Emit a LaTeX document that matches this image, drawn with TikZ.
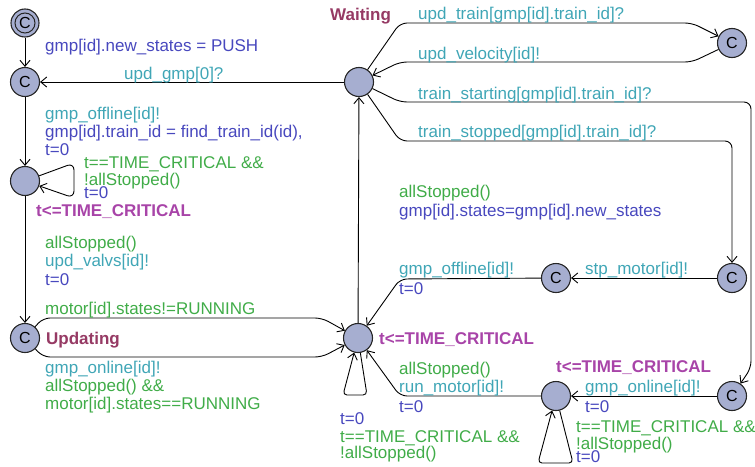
\documentclass[tikz,border=0pt]{standalone}
\usepackage{fontspec}
\setmainfont{Liberation Sans}
\usetikzlibrary{arrows.meta}
\definecolor{cblue}{RGB}{72,72,190}
\definecolor{cteal}{RGB}{64,166,182}
\definecolor{cgreen}{RGB}{64,172,72}
\definecolor{cinv}{RGB}{168,68,168}
\definecolor{cname}{RGB}{150,58,100}
\definecolor{locfill}{RGB}{166,174,208}
\begin{document}
\begin{tikzpicture}[x=1pt,y=-1pt,
  loc/.style={circle,draw=black!85,line width=1.1pt,fill=locfill,minimum size=29pt,inner sep=0pt,font=\fontsize{16}{16}\selectfont},
  lbl/.style={anchor=base west,inner sep=0pt,font=\fontsize{17}{17}\selectfont},
  bl/.style={lbl,text=cblue},
  te/.style={lbl,text=cteal},
  gr/.style={lbl,text=cgreen},
  inv/.style={lbl,text=cinv,font=\fontsize{17}{17}\selectfont\bfseries},
  nm/.style={lbl,text=cname,font=\fontsize{17}{17}\selectfont\bfseries},
  edge/.style={draw=black,line width=0.9pt,rounded corners=7pt,-{Straight Barb[length=6pt,width=10pt]}}
]
\useasboundingbox (0,0) rectangle (755,466);

% locations
\node[loc,minimum size=28pt] (init) at (25,23) {};
\node[circle,draw=black!85,line width=1pt,minimum size=20pt,inner sep=0pt,font=\fontsize{16}{16}\selectfont] (initin) at (25,23) {C};
\node[loc] (c1) at (25,82) {C};
\node[loc] (n3) at (25,181) {};
\node[loc] (upd) at (25,338) {C};
\node[loc] (wait) at (359,82) {};
\node[loc] (tc) at (358,338) {};
\node[loc] (ctr) at (732,43) {C};
\node[loc] (cstp) at (732,278) {C};
\node[loc] (cmid) at (556,278) {C};
\node[loc] (cbr) at (732,396) {C};
\node[loc] (lbm) at (556,396) {};

% names and invariants
\node[nm] (nwait) at (330,20) {Waiting};
\node[nm] (nupd) at (46,344) {Updating};
\node[inv] (i3) at (36,216) {t<=TIME\_CRITICAL};
\node[inv] (itc) at (379,344) {t<=TIME\_CRITICAL};
\node[inv] (ilbm) at (556,372) {t<=TIME\_CRITICAL};

% edges
\draw[edge] (init) -- (c1);
\draw[edge] (wait) -- (c1);
\draw[edge] (c1) -- (n3);
\draw[edge] (n3) -- (74,163) -- (74,198) -- (n3);
\draw[edge] (n3) -- (upd);
\draw[edge] (upd) -- (43,318) -- (322,318) -- (tc);
\draw[edge] (upd) -- (43,357) -- (322,357) -- (tc);
\draw[edge] (tc) -- (wait);
\draw[edge,rounded corners=4pt] (tc) -- (367,395) -- (343,395) -- (tc);
\draw[edge] (wait) -- (400,23) -- (692,23) -- (ctr);
\draw[edge] (ctr) -- (692,62) -- (400,62) -- (wait);
\draw[edge] (wait) -- (400,102) -- (751,102) -- (751,368) -- (cbr);
\draw[edge] (wait) -- (400,141) -- (732,141) -- (cstp);
\draw[edge] (cstp) -- (cmid);
\draw[edge] (cmid) -- (400,279) -- (tc);
\draw[edge] (cbr) -- (lbm);
\draw[edge] (lbm) -- (400,396) -- (tc);
\draw[edge,rounded corners=4pt] (lbm) -- (573,463) -- (538,463) -- (lbm);

% edge labels
\node[bl] (a1) at (45,51) {gmp[id].new\_states = PUSH};
\node[te] (a2) at (124,79) {upd\_gmp[0]?};
\node[te] (a3) at (45,119) {gmp\_offline[id]!};
\node[bl] (a4) at (45,137) {gmp[id].train\_id = find\_train\_id(id),};
\node[bl] (a5) at (45,155) {t=0};
\node[gr] (a6) at (84,168) {t==TIME\_CRITICAL \&\&};
\node[gr] (a7) at (84,185) {!allStopped()};
\node[bl] (a8) at (84,198) {t=0};
\node[gr] (a9) at (45,248) {allStopped()};
\node[te] (a10) at (45,266) {upd\_valvs[id]!};
\node[bl] (a11) at (45,285) {t=0};
\node[gr] (a12) at (45,314) {motor[id].states!=RUNNING};
\node[te] (a13) at (45,373) {gmp\_online[id]!};
\node[gr] (a14) at (45,391) {allStopped() \&\&};
\node[gr] (a15) at (45,409) {motor[id].states==RUNNING};
\node[bl] (a16) at (340,424) {t=0};
\node[gr] (a17) at (340,442) {t==TIME\_CRITICAL \&\&};
\node[gr] (a18) at (340,458) {!allStopped()};
\node[te] (b1) at (418,19) {upd\_train[gmp[id].train\_id]?};
\node[te] (b2) at (418,59) {upd\_velocity[id]!};
\node[te] (b3) at (418,99) {train\_starting[gmp[id].train\_id]?};
\node[te] (b4) at (418,137) {train\_stopped[gmp[id].train\_id]?};
\node[gr] (b5) at (399,197) {allStopped()};
\node[bl] (b6) at (399,216) {gmp[id].states=gmp[id].new\_states};
\node[te] (b7) at (399,274) {gmp\_offline[id]!};
\node[bl] (b8) at (399,294) {t=0};
\node[te] (b9) at (585,274) {stp\_motor[id]!};
\node[gr] (b10) at (399,374) {allStopped()};
\node[te] (b11) at (399,392) {run\_motor[id]!};
\node[bl] (b12) at (399,412) {t=0};
\node[te] (b13) at (585,392) {gmp\_online[id]!};
\node[bl] (b14) at (585,412) {t=0};
\node[gr] (b15) at (576,432) {t==TIME\_CRITICAL \&\&};
\node[gr] (b16) at (576,449) {!allStopped()};
\node[bl] (b17) at (576,462) {t=0};
\end{tikzpicture}
\end{document}
